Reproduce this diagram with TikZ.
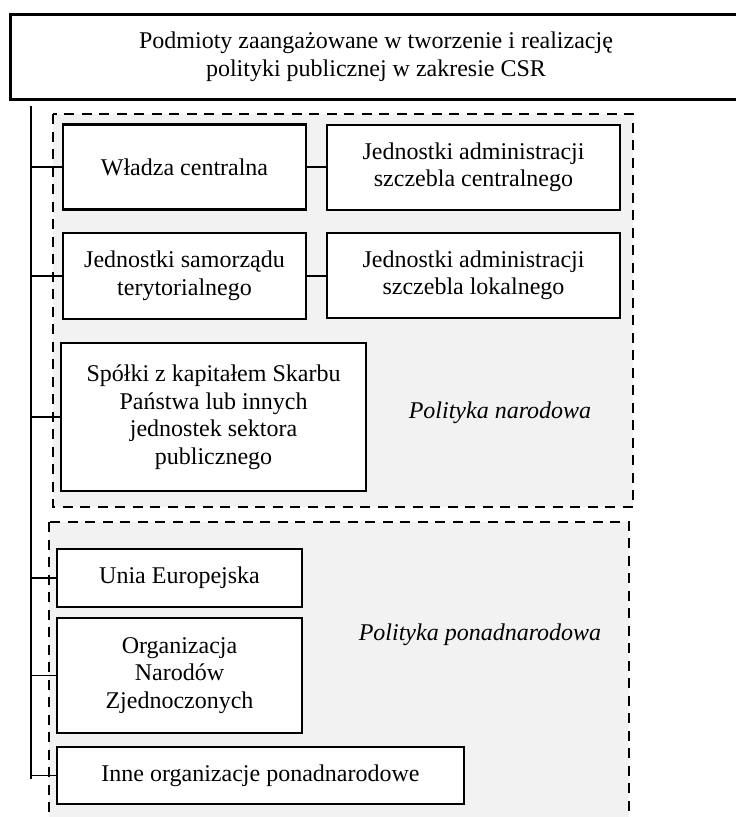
\documentclass[tikz,border=0pt]{standalone}
\usepackage{fontspec}
\setmainfont{Liberation Serif}
\definecolor{panel}{HTML}{F2F2F2}
\tikzset{
  every node/.style={font=\fontsize{24}{27.5}\selectfont},
  ent/.style={draw=black, line width=2.6pt, fill=white, align=center, inner sep=0pt},
  region/.style={draw=black, dash pattern=on 10pt off 7.5pt, line width=2.8pt, fill=panel},
  tick/.style={line width=1.5pt},
  link/.style={line width=2.2pt},
  spine/.style={line width=2.4pt},
  lbl/.style={font=\fontsize{24}{27.5}\selectfont\itshape}
}
\begin{document}
\begin{tikzpicture}[x=1pt,y=-1pt]
\useasboundingbox (0,0) rectangle (736,817);
\clip (0,0) rectangle (736,817);
% dashed regions
\draw[region] (53,114) rectangle (633,507);
\draw[region] (49,522) rectangle (629,840);
% top box
\node[ent, line width=3pt, minimum width=740, minimum height=85, anchor=north west] (top) at (9,13) {};
\node (toptext) at (376,57) [align=center] {Podmioty zaangażowane w tworzenie i realizację\\polityki publicznej w zakresie CSR};
% entity boxes
\node[ent, minimum width=243, minimum height=85] (wc) at (184.5,167) {Władza centralna};
\node[ent, minimum width=293, minimum height=85] (jac) at (473.5,167.5) {Jednostki administracji\\szczebla centralnego};
\node[ent, minimum width=243, minimum height=86] (jst) at (184.5,276) {Jednostki samorządu\\terytorialnego};
\node[ent, minimum width=293, minimum height=85] (jal) at (473.5,275.5) {Jednostki administracji\\szczebla lokalnego};
\node[ent, minimum width=305, minimum height=148] (sp) at (213.5,417) {Spółki z kapitałem Skarbu\\Państwa lub innych\\jednostek sektora\\publicznego};
\node[ent, minimum width=245, minimum height=58] (ue) at (179.5,578) {Unia Europejska};
\node[ent, minimum width=245, minimum height=115] (onz) at (179.5,675.5) {Organizacja\\Narodów\\Zjednoczonych};
\node[ent, minimum width=407, minimum height=57] (inne) at (260.5,775.5) {Inne organizacje ponadnarodowe};
% region labels
\node[lbl] (pn) at (500,413) {Polityka narodowa};
\node[lbl] (ppn) at (480,635) {Polityka ponadnarodowa};
% spine
\coordinate (s1) at (31,106);
\coordinate (s2) at (31,779);
\draw[spine] (s1) -- (s2);
% ticks
\foreach \n in {wc,jst,sp,ue,onz,inne}{
  \draw[tick] (s1 |- \n.west) -- (\n.west);
}
% links
\draw[link] (wc.east) -- (jac.west |- wc.east);
\draw[link] (jst.east) -- (jal.west |- jst.east);
\end{tikzpicture}
\end{document}
